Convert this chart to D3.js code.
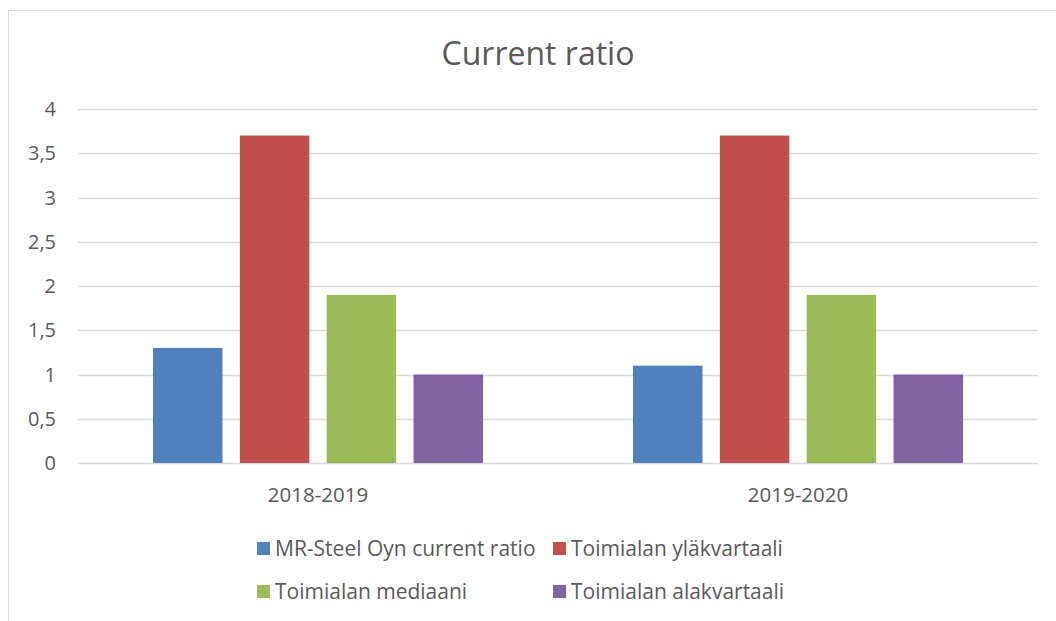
<!DOCTYPE html>
<html>
<head>
<meta charset="utf-8">
<script src="https://cdn.jsdelivr.net/npm/d3@7"></script>
<style>
  body { margin: 0; background: #fff; }
  text { font-family: "Open Sans", sans-serif; fill: #595959; }
</style>
</head>
<body>
<svg id="chart"></svg>
<script>
// data
var periods = ["2018-2019", "2019-2020"]
var seriesNames = ["MR-Steel Oyn current ratio", "Toimialan yläkvartaali", "Toimialan mediaani", "Toimialan alakvartaali"]
var seriesColors = ["#4F81BD", "#C0504D", "#9BBB59", "#8064A2"]
var mrSteel = [1.3, 1.1]
var upperQuartile = [3.7, 3.7]
var median = [1.9, 1.9]
var lowerQuartile = [1.0, 1.0]
var yTicks = [0, 0.5, 1, 1.5, 2, 2.5, 3, 3.5, 4]

var seriesValues = [mrSteel, upperQuartile, median, lowerQuartile]

//dimensions
var dimensions = {
    width: 1056,
    height: 621,
    plot: { left: 78, right: 1038, top: 109, bottom: 463 }
}

var svg = d3.select("#chart")
            .attr("width", dimensions.width)
            .attr("height", dimensions.height)

//chart frame
svg.append("rect")
   .attr("x", 8.5)
   .attr("y", 10.5)
   .attr("width", 1060)
   .attr("height", 640)
   .attr("fill", "none")
   .attr("stroke", "#d9d9d9")

//scales
var x0 = d3.scaleBand()
           .domain(periods)
           .range([dimensions.plot.left, dimensions.plot.right])
var x1 = d3.scaleBand()
           .domain(seriesNames)
           .range([75, x0.bandwidth() - 75])
           .paddingInner(0.2)
var y = d3.scaleLinear()
          .domain([0, 4])
          .range([dimensions.plot.bottom, dimensions.plot.top])

//gridlines
svg.append("g")
   .selectAll("line")
   .data(yTicks)
   .enter()
   .append("line")
   .attr("x1", dimensions.plot.left)
   .attr("x2", dimensions.plot.right)
   .attr("y1", d => Math.round(y(d)) + 0.5)
   .attr("y2", d => Math.round(y(d)) + 0.5)
   .attr("stroke", "#d9d9d9")
   .attr("stroke-width", 1.3)

//y axis labels
var fmt = d => String(d).replace(".", ",")
svg.append("g")
   .selectAll("text")
   .data(yTicks)
   .enter()
   .append("text")
   .attr("x", 56)
   .attr("y", d => y(d))
   .attr("dy", "0.35em")
   .attr("text-anchor", "end")
   .attr("font-size", 20)
   .text(fmt)

//bars
var groups = svg.append("g")
                .selectAll("g")
                .data(periods)
                .enter()
                .append("g")
                .attr("transform", d => `translate(${x0(d)},0)`)

groups.selectAll("rect")
      .data((p, i) => seriesNames.map((s, j) => ({ series: s, value: seriesValues[j][i], color: seriesColors[j] })))
      .enter()
      .append("rect")
      .attr("x", d => x1(d.series))
      .attr("width", x1.bandwidth())
      .attr("y", d => y(d.value))
      .attr("height", d => y(0) - y(d.value))
      .attr("fill", d => d.color)

//x axis labels
svg.append("g")
   .selectAll("text")
   .data(periods)
   .enter()
   .append("text")
   .attr("x", d => x0(d) + x0.bandwidth() / 2)
   .attr("y", 502)
   .attr("text-anchor", "middle")
   .attr("font-size", 20.5)
   .text(d => d)

//title
svg.append("text")
   .attr("x", 538)
   .attr("y", 65)
   .attr("text-anchor", "middle")
   .attr("font-size", 32)
   .text("Current ratio")

//legend
var legendPos = [[257, 549], [553, 549], [257, 592], [553, 592]]
var legend = svg.append("g")
                .selectAll("g")
                .data(seriesNames)
                .enter()
                .append("g")
                .attr("transform", (d, i) => `translate(${legendPos[i][0]},${legendPos[i][1]})`)
legend.append("rect")
      .attr("x", 0)
      .attr("y", -7)
      .attr("width", 13)
      .attr("height", 13)
      .attr("fill", (d, i) => seriesColors[i])
legend.append("text")
      .attr("x", 18)
      .attr("y", 0)
      .attr("dy", "0.35em")
      .attr("font-size", 21)
      .text(d => d)
</script>
</body>
</html>
